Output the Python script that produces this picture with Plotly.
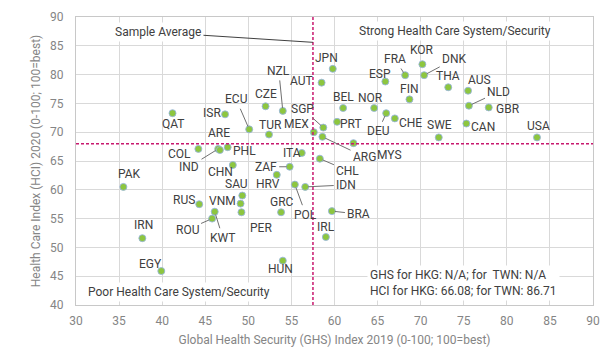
import plotly.graph_objects as go

# ---------------- data ----------------
countries = ["JPN", "AUT", "KOR", "DNK", "FRA", "ESP", "THA", "AUS", "FIN", "NLD",
             "GBR", "BEL", "NOR", "NZL", "CZE", "ISR", "QAT", "DEU", "CHE", "PRT",
             "CAN", "SGP", "ECU", "MEX", "TUR", "SWE", "USA", "ARG", "MYS", "COL",
             "IND", "ARE", "PHL", "ITA", "CHL", "CHN", "ZAF", "HRV", "POL", "IDN",
             "PAK", "SAU", "VNM", "RUS", "PER", "GRC", "BRA", "KWT", "ROU", "IRN",
             "IRL", "EGY", "HUN"]
ghs_2019 = [59.8, 58.5, 70.2, 70.4, 68.2, 65.9, 73.2, 75.5, 68.7, 75.6,
            77.9, 61.0, 64.6, 54.0, 52.0, 47.3, 41.2, 66.0, 67.0, 60.3,
            75.3, 58.7, 50.1, 57.6, 52.4, 72.1, 83.5, 58.6, 62.2, 44.2,
            46.5, 46.7, 47.6, 56.2, 58.3, 48.2, 54.8, 53.3, 55.4, 56.6,
            35.5, 49.3, 49.1, 44.3, 49.2, 53.8, 59.7, 46.1, 45.8, 37.7,
            59.0, 39.9, 54.0]
hci_2020 = [81.0, 78.6, 81.8, 79.9, 79.9, 78.8, 77.8, 77.2, 75.7, 74.6,
            74.3, 74.2, 74.2, 73.7, 74.5, 73.1, 73.3, 73.3, 72.4, 71.8,
            71.5, 70.8, 70.5, 70.0, 69.6, 69.1, 69.1, 69.2, 68.1, 67.1,
            67.1, 66.9, 67.4, 66.4, 65.4, 64.3, 64.0, 62.6, 60.9, 60.5,
            60.5, 59.0, 57.6, 57.5, 56.1, 56.1, 56.3, 56.2, 55.0, 51.6,
            51.8, 45.9, 47.7]
sample_avg_ghs = 57.5
sample_avg_hci = 68.0
x_ticks = [30, 35, 40, 45, 50, 55, 60, 65, 70, 75, 80, 85, 90]
y_ticks = [40, 45, 50, 55, 60, 65, 70, 75, 80, 85, 90]

# ---------------- label placement (pixel offsets, leader flag) ----------------
label_pos = {
    "JPN": (-6, -11, False), "AUT": (-20, -2, False), "KOR": (0, -14, False),
    "DNK": (30, -16, True), "FRA": (-10, -16, True), "ESP": (-5, -8, False),
    "THA": (0, -11, False), "AUS": (11, -11, False), "FIN": (0, -10, False),
    "NLD": (30, -14, True), "GBR": (19, 2, False), "BEL": (0, -11, False),
    "NOR": (-4, -10, False), "NZL": (-4, -40, True), "CZE": (0, -12, False),
    "ISR": (-13, -1, False), "QAT": (1, 11, False), "DEU": (-8, 18, True),
    "CHE": (16, 5, False), "PRT": (14, 2, False), "CAN": (17, 3, False),
    "SGP": (-21, -19, True), "ECU": (-13, -30, True), "MEX": (-17, -8, False),
    "TUR": (1, -10, False), "SWE": (1, -12, False), "USA": (2, -11, False),
    "ARG": (42, 20, True), "MYS": (36, 12, False), "COL": (-19, 5, False),
    "IND": (-29, 18, True), "ARE": (-1, -17, False), "PHL": (17, 4, False),
    "ITA": (-10, 0, False), "CHL": (28, 12, True), "CHN": (-12, 7, False),
    "ZAF": (-24, 0, True), "HRV": (-9, 9, False), "POL": (11, 30, True),
    "IDN": (41, -2, True), "PAK": (6, -13, False), "SAU": (-6, -12, False),
    "VNM": (-18, -3, False), "RUS": (-15, -4, False), "PER": (20, 16, False),
    "GRC": (1, -10, False), "BRA": (27, 3, True), "KWT": (8, 26, True),
    "ROU": (-25, 11, True), "IRN": (1, -13, False), "IRL": (0, -10, False),
    "EGY": (-11, -7, False), "HUN": (-2, 8, False),
}

FONT = "Roboto, 'Open Sans', sans-serif"
LABEL_COLOR = "#404040"
AXIS_TEXT = "#858585"
GRID = "#d9d9d9"
AVG_COLOR = "#c8186e"

fig = go.Figure()
fig.add_trace(go.Scatter(
    x=ghs_2019, y=hci_2020, mode="markers", text=countries,
    marker=dict(size=7, color="#8dc63f",
                line=dict(color="rgba(150,180,225,0.85)", width=1)),
    hoverinfo="text+x+y", showlegend=False,
))

annotations = []
for c, gx, hy in zip(countries, ghs_2019, hci_2020):
    dx, dy, leader = label_pos[c]
    annotations.append(dict(
        x=gx, y=hy, text=c, showarrow=True, ax=dx, ay=dy,
        arrowhead=0, arrowwidth=1, standoff=3, startstandoff=1,
        arrowcolor="#707070" if leader else "rgba(0,0,0,0)",
        font=dict(family=FONT, size=12, color=LABEL_COLOR),
    ))

# quadrant / note texts
annotations += [
    dict(x=sample_avg_ghs, y=85.6, text="Sample Average", showarrow=True,
         ax=-155, ay=-10, arrowhead=0, arrowwidth=1, arrowcolor="#404040",
         standoff=0, bgcolor="white", borderpad=2,
         font=dict(family=FONT, size=12, color=LABEL_COLOR)),
    dict(x=74.0, y=87.55, text="Strong Health Care System/Security", showarrow=False,
         bgcolor="white", borderpad=2,
         font=dict(family=FONT, size=12, color=LABEL_COLOR)),
    dict(x=31.0, y=42.2, xanchor="left", text="Poor Health Care System/Security",
         showarrow=False, bgcolor="white", borderpad=2,
         font=dict(family=FONT, size=12, color=LABEL_COLOR)),
    dict(x=63.8, y=43.9, xanchor="left", align="left",
         text="GHS for HKG: N/A; for  TWN: N/A<br>HCI for HKG: 66.08; for TWN: 86.71",
         showarrow=False, bgcolor="white", borderpad=2,
         font=dict(family=FONT, size=12, color=LABEL_COLOR)),
]

shapes = [
    dict(type="line", xref="x", yref="paper", x0=sample_avg_ghs, x1=sample_avg_ghs,
         y0=0, y1=1, line=dict(color=AVG_COLOR, width=1.5, dash="3px,2px"), layer="above"),
    dict(type="line", xref="paper", yref="y", x0=0, x1=1,
         y0=sample_avg_hci, y1=sample_avg_hci,
         line=dict(color=AVG_COLOR, width=1.5, dash="3px,2px"), layer="above"),
]

# the page body adds an 8px offset, so the figure is 8px smaller and margins shifted
fig.update_layout(
    width=605, height=354,
    margin=dict(l=68, r=20, t=9, b=57, autoexpand=False),
    paper_bgcolor="white", plot_bgcolor="white",
    font=dict(family=FONT, size=12, color=AXIS_TEXT),
    annotations=annotations, shapes=shapes,
    xaxis=dict(range=[30, 90], tickvals=x_ticks, showgrid=True, gridcolor=GRID,
               gridwidth=1, zeroline=False, showline=True, linecolor="#c8c8c8",
               mirror=True, ticks="outside", ticklen=5, tickcolor="rgba(0,0,0,0)",
               automargin=False,
               tickfont=dict(family=FONT, size=12, color=AXIS_TEXT),
               title=dict(text="Global Health Security (GHS) Index 2019 (0-100; 100=best)",
                          font=dict(family=FONT, size=12, color=AXIS_TEXT), standoff=8)),
    yaxis=dict(range=[40, 90], tickvals=y_ticks, showgrid=True, gridcolor=GRID,
               gridwidth=1, zeroline=False, showline=True, linecolor="#c8c8c8",
               mirror=True, ticks="outside", ticklen=9, tickcolor="rgba(0,0,0,0)",
               automargin=False,
               tickfont=dict(family=FONT, size=12, color=AXIS_TEXT),
               title=dict(text="Health Care Index (HCI) 2020 (0-100; 100=best)",
                          font=dict(family=FONT, size=12, color=AXIS_TEXT), standoff=6)),
)

fig.write_html("out.html")
